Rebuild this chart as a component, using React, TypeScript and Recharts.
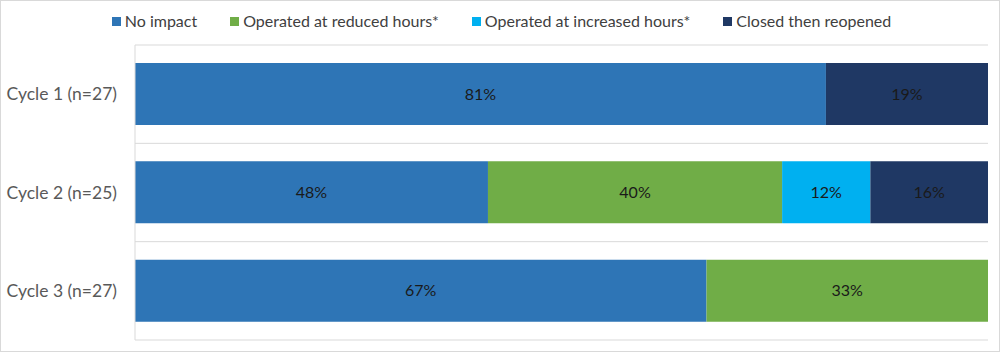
import { Bar, BarChart, CartesianGrid, LabelList, Legend, XAxis, YAxis } from 'recharts';

const categories = ['Cycle 1 (n=27)', 'Cycle 2 (n=25)', 'Cycle 3 (n=27)'];
const noImpact = [81, 48, 67];
const reducedHours = [null, 40, 33];
const increasedHours = [null, 12, null];
const closedReopened = [19, 16, null];

const seriesNames = ['No impact', 'Operated at reduced hours*', 'Operated at increased hours*', 'Closed then reopened'];
const seriesKeys = ['noImpact', 'reduced', 'increased', 'closed'];
const seriesColors = ['#2E75B6', '#70AD47', '#00B0F0', '#1F3864'];

const data = categories.map((name, i) => ({
  name,
  noImpact: noImpact[i],
  reduced: reducedHours[i],
  increased: increasedHours[i],
  closed: closedReopened[i],
}));

const FONT = 'Lato, "Open Sans", sans-serif';

function LegendContent() {
  return (
    <div style={{ height: 20, paddingLeft: 14, display: 'flex', justifyContent: 'center', gap: 33, fontFamily: FONT, fontSize: 16, lineHeight: '20px', color: '#404040' }}>
      {seriesNames.map((name, i) => (
        <span key={name} style={{ display: 'flex', alignItems: 'center', gap: 4 }}>
          <span style={{ width: 9, height: 9, background: seriesColors[i], display: 'inline-block' }} />
          {name}
        </span>
      ))}
    </div>
  );
}

const pct = (v: unknown) => (v ? `${v}%` : '');

export default function App() {
  return (
    <div style={{ position: 'absolute', left: 0, top: 0, width: 998, height: 350, border: '1px solid #d9d9d9', background: '#fff' }}>
      <BarChart
        width={998}
        height={350}
        data={data}
        layout="vertical"
        stackOffset="expand"
        margin={{ top: 24, right: 11, bottom: 11, left: 0 }}
      >
        <CartesianGrid
          vertical={false}
          stroke="#d9d9d9"
          horizontalCoordinatesGenerator={({ offset }: any) =>
            [0, 1, 2, 3].map(i => offset.top + (i * offset.height) / categories.length)
          }
        />
        <XAxis type="number" domain={[0, 1]} hide />
        <YAxis
          type="category"
          dataKey="name"
          width={134}
          axisLine={{ stroke: '#d9d9d9' }}
          tickLine={false}
          tick={{ fontSize: 17.5, fontFamily: FONT, fill: '#595959' }}
          tickMargin={12}
        />
        <Legend verticalAlign="top" content={<LegendContent />} wrapperStyle={{ top: 10 }} />
        {seriesKeys.map((key, i) => (
          <Bar key={key} dataKey={key} name={seriesNames[i]} stackId="a" fill={seriesColors[i]} barSize={62} isAnimationActive={false}>
            <LabelList dataKey={key} position="center" formatter={pct} style={{ fontSize: 16, fontFamily: FONT, fill: '#1a1a1a' }} />
          </Bar>
        ))}
      </BarChart>
    </div>
  );
}
